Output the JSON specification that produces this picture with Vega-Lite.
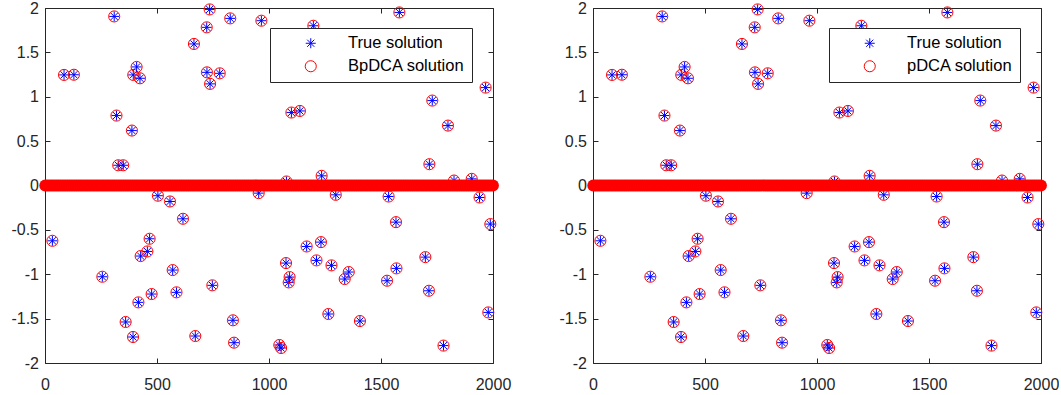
{
  "$schema": "https://vega.github.io/schema/vega-lite/v6.json",
  "padding": {"left": 10, "top": 0, "right": 0, "bottom": 0},
  "spacing": 47,
  "datasets": {
    "nz": [
      {"i":33,"True solution":-0.623,"BpDCA solution":-0.623,"pDCA solution":-0.623},
      {"i":85,"True solution":1.246,"BpDCA solution":1.246,"pDCA solution":1.246},
      {"i":129,"True solution":1.248,"BpDCA solution":1.248,"pDCA solution":1.248},
      {"i":256,"True solution":-1.028,"BpDCA solution":-1.028,"pDCA solution":-1.028},
      {"i":309,"True solution":1.905,"BpDCA solution":1.905,"pDCA solution":1.905},
      {"i":319,"True solution":0.788,"BpDCA solution":0.788,"pDCA solution":0.788},
      {"i":327,"True solution":0.228,"BpDCA solution":0.228,"pDCA solution":0.228},
      {"i":349,"True solution":0.228,"BpDCA solution":0.228,"pDCA solution":0.228},
      {"i":360,"True solution":-1.538,"BpDCA solution":-1.538,"pDCA solution":-1.538},
      {"i":388,"True solution":0.619,"BpDCA solution":0.619,"pDCA solution":0.619},
      {"i":393,"True solution":-1.707,"BpDCA solution":-1.707,"pDCA solution":-1.707},
      {"i":394,"True solution":1.246,"BpDCA solution":1.246,"pDCA solution":1.246},
      {"i":409,"True solution":1.336,"BpDCA solution":1.336,"pDCA solution":1.336},
      {"i":417,"True solution":-1.317,"BpDCA solution":-1.317,"pDCA solution":-1.317},
      {"i":424,"True solution":1.208,"BpDCA solution":1.208,"pDCA solution":1.208},
      {"i":427,"True solution":-0.795,"BpDCA solution":-0.795,"pDCA solution":-0.795},
      {"i":457,"True solution":-0.743,"BpDCA solution":-0.743,"pDCA solution":-0.743},
      {"i":467,"True solution":-0.6,"BpDCA solution":-0.6,"pDCA solution":-0.6},
      {"i":476,"True solution":-1.223,"BpDCA solution":-1.223,"pDCA solution":-1.223},
      {"i":504,"True solution":-0.115,"BpDCA solution":-0.115,"pDCA solution":-0.115},
      {"i":558,"True solution":-0.18,"BpDCA solution":-0.18,"pDCA solution":-0.18},
      {"i":570,"True solution":-0.953,"BpDCA solution":-0.953,"pDCA solution":-0.953},
      {"i":587,"True solution":-1.204,"BpDCA solution":-1.204,"pDCA solution":-1.204},
      {"i":616,"True solution":-0.375,"BpDCA solution":-0.375,"pDCA solution":-0.375},
      {"i":665,"True solution":1.595,"BpDCA solution":1.595,"pDCA solution":1.595},
      {"i":671,"True solution":-1.696,"BpDCA solution":-1.696,"pDCA solution":-1.696},
      {"i":722,"True solution":1.782,"BpDCA solution":1.782,"pDCA solution":1.782},
      {"i":723,"True solution":1.275,"BpDCA solution":1.275,"pDCA solution":1.275},
      {"i":735,"True solution":1.984,"BpDCA solution":1.984,"pDCA solution":1.984},
      {"i":737,"True solution":1.145,"BpDCA solution":1.145,"pDCA solution":1.145},
      {"i":747,"True solution":-1.125,"BpDCA solution":-1.125,"pDCA solution":-1.125},
      {"i":780,"True solution":1.264,"BpDCA solution":1.264,"pDCA solution":1.264},
      {"i":827,"True solution":1.883,"BpDCA solution":1.883,"pDCA solution":1.883},
      {"i":839,"True solution":-1.519,"BpDCA solution":-1.519,"pDCA solution":-1.519},
      {"i":844,"True solution":-1.771,"BpDCA solution":-1.771,"pDCA solution":-1.771},
      {"i":954,"True solution":-0.086,"BpDCA solution":-0.086,"pDCA solution":-0.086},
      {"i":966,"True solution":1.857,"BpDCA solution":1.857,"pDCA solution":1.857},
      {"i":1046,"True solution":-1.797,"BpDCA solution":-1.797,"pDCA solution":-1.797},
      {"i":1054,"True solution":-1.831,"BpDCA solution":-1.831,"pDCA solution":-1.831},
      {"i":1076,"True solution":-0.874,"BpDCA solution":-0.874,"pDCA solution":-0.874},
      {"i":1078,"True solution":0.045,"BpDCA solution":0.045,"pDCA solution":0.045},
      {"i":1088,"True solution":-1.092,"BpDCA solution":-1.092,"pDCA solution":-1.092},
      {"i":1092,"True solution":-1.032,"BpDCA solution":-1.032,"pDCA solution":-1.032},
      {"i":1100,"True solution":0.822,"BpDCA solution":0.822,"pDCA solution":0.822},
      {"i":1138,"True solution":0.84,"BpDCA solution":0.84,"pDCA solution":0.84},
      {"i":1168,"True solution":-0.687,"BpDCA solution":-0.687,"pDCA solution":-0.687},
      {"i":1198,"True solution":1.8,"BpDCA solution":1.8,"pDCA solution":1.8},
      {"i":1212,"True solution":-0.844,"BpDCA solution":-0.844,"pDCA solution":-0.844},
      {"i":1232,"True solution":-0.638,"BpDCA solution":-0.638,"pDCA solution":-0.638},
      {"i":1235,"True solution":0.109,"BpDCA solution":0.109,"pDCA solution":0.109},
      {"i":1265,"True solution":-1.448,"BpDCA solution":-1.448,"pDCA solution":-1.448},
      {"i":1279,"True solution":-0.9,"BpDCA solution":-0.9,"pDCA solution":-0.9},
      {"i":1298,"True solution":-0.105,"BpDCA solution":-0.105,"pDCA solution":-0.105},
      {"i":1338,"True solution":-1.054,"BpDCA solution":-1.054,"pDCA solution":-1.054},
      {"i":1356,"True solution":-0.975,"BpDCA solution":-0.975,"pDCA solution":-0.975},
      {"i":1406,"True solution":-1.527,"BpDCA solution":-1.527,"pDCA solution":-1.527},
      {"i":1527,"True solution":-1.073,"BpDCA solution":-1.073,"pDCA solution":-1.073},
      {"i":1534,"True solution":-0.124,"BpDCA solution":-0.124,"pDCA solution":-0.124},
      {"i":1567,"True solution":-0.413,"BpDCA solution":-0.413,"pDCA solution":-0.413},
      {"i":1569,"True solution":-0.934,"BpDCA solution":-0.934,"pDCA solution":-0.934},
      {"i":1582,"True solution":1.95,"BpDCA solution":1.95,"pDCA solution":1.95},
      {"i":1698,"True solution":-0.807,"BpDCA solution":-0.807,"pDCA solution":-0.807},
      {"i":1714,"True solution":-1.186,"BpDCA solution":-1.186,"pDCA solution":-1.186},
      {"i":1716,"True solution":0.24,"BpDCA solution":0.24,"pDCA solution":0.24},
      {"i":1729,"True solution":0.957,"BpDCA solution":0.957,"pDCA solution":0.957},
      {"i":1779,"True solution":-1.804,"BpDCA solution":-1.804,"pDCA solution":-1.804},
      {"i":1799,"True solution":0.675,"BpDCA solution":0.675,"pDCA solution":0.675},
      {"i":1826,"True solution":0.056,"BpDCA solution":0.056,"pDCA solution":0.056},
      {"i":1905,"True solution":0.075,"BpDCA solution":0.075,"pDCA solution":0.075},
      {"i":1940,"True solution":-0.135,"BpDCA solution":-0.135,"pDCA solution":-0.135},
      {"i":1967,"True solution":1.103,"BpDCA solution":1.103,"pDCA solution":1.103},
      {"i":1979,"True solution":-1.43,"BpDCA solution":-1.43,"pDCA solution":-1.43},
      {"i":1988,"True solution":-0.435,"BpDCA solution":-0.435,"pDCA solution":-0.435}
    ],
    "zeros": [
      {"i":1,"v":0},{"i":10,"v":0},{"i":20,"v":0},{"i":30,"v":0},{"i":40,"v":0},{"i":50,"v":0},{"i":60,"v":0},{"i":70,"v":0},{"i":80,"v":0},{"i":90,"v":0},
      {"i":100,"v":0},{"i":110,"v":0},{"i":120,"v":0},{"i":130,"v":0},{"i":140,"v":0},{"i":150,"v":0},{"i":160,"v":0},{"i":170,"v":0},{"i":180,"v":0},{"i":190,"v":0},
      {"i":200,"v":0},{"i":210,"v":0},{"i":220,"v":0},{"i":230,"v":0},{"i":240,"v":0},{"i":250,"v":0},{"i":260,"v":0},{"i":270,"v":0},{"i":280,"v":0},{"i":290,"v":0},
      {"i":300,"v":0},{"i":310,"v":0},{"i":320,"v":0},{"i":330,"v":0},{"i":340,"v":0},{"i":350,"v":0},{"i":360,"v":0},{"i":370,"v":0},{"i":380,"v":0},{"i":390,"v":0},
      {"i":400,"v":0},{"i":410,"v":0},{"i":420,"v":0},{"i":430,"v":0},{"i":440,"v":0},{"i":450,"v":0},{"i":460,"v":0},{"i":470,"v":0},{"i":480,"v":0},{"i":490,"v":0},
      {"i":500,"v":0},{"i":510,"v":0},{"i":520,"v":0},{"i":530,"v":0},{"i":540,"v":0},{"i":550,"v":0},{"i":560,"v":0},{"i":570,"v":0},{"i":580,"v":0},{"i":590,"v":0},
      {"i":600,"v":0},{"i":610,"v":0},{"i":620,"v":0},{"i":630,"v":0},{"i":640,"v":0},{"i":650,"v":0},{"i":660,"v":0},{"i":670,"v":0},{"i":680,"v":0},{"i":690,"v":0},
      {"i":700,"v":0},{"i":710,"v":0},{"i":720,"v":0},{"i":730,"v":0},{"i":740,"v":0},{"i":750,"v":0},{"i":760,"v":0},{"i":770,"v":0},{"i":780,"v":0},{"i":790,"v":0},
      {"i":800,"v":0},{"i":810,"v":0},{"i":820,"v":0},{"i":830,"v":0},{"i":840,"v":0},{"i":850,"v":0},{"i":860,"v":0},{"i":870,"v":0},{"i":880,"v":0},{"i":890,"v":0},
      {"i":900,"v":0},{"i":910,"v":0},{"i":920,"v":0},{"i":930,"v":0},{"i":940,"v":0},{"i":950,"v":0},{"i":960,"v":0},{"i":970,"v":0},{"i":980,"v":0},{"i":990,"v":0},
      {"i":1000,"v":0},{"i":1010,"v":0},{"i":1020,"v":0},{"i":1030,"v":0},{"i":1040,"v":0},{"i":1050,"v":0},{"i":1060,"v":0},{"i":1070,"v":0},{"i":1080,"v":0},{"i":1090,"v":0},
      {"i":1100,"v":0},{"i":1110,"v":0},{"i":1120,"v":0},{"i":1130,"v":0},{"i":1140,"v":0},{"i":1150,"v":0},{"i":1160,"v":0},{"i":1170,"v":0},{"i":1180,"v":0},{"i":1190,"v":0},
      {"i":1200,"v":0},{"i":1210,"v":0},{"i":1220,"v":0},{"i":1230,"v":0},{"i":1240,"v":0},{"i":1250,"v":0},{"i":1260,"v":0},{"i":1270,"v":0},{"i":1280,"v":0},{"i":1290,"v":0},
      {"i":1300,"v":0},{"i":1310,"v":0},{"i":1320,"v":0},{"i":1330,"v":0},{"i":1340,"v":0},{"i":1350,"v":0},{"i":1360,"v":0},{"i":1370,"v":0},{"i":1380,"v":0},{"i":1390,"v":0},
      {"i":1400,"v":0},{"i":1410,"v":0},{"i":1420,"v":0},{"i":1430,"v":0},{"i":1440,"v":0},{"i":1450,"v":0},{"i":1460,"v":0},{"i":1470,"v":0},{"i":1480,"v":0},{"i":1490,"v":0},
      {"i":1500,"v":0},{"i":1510,"v":0},{"i":1520,"v":0},{"i":1530,"v":0},{"i":1540,"v":0},{"i":1550,"v":0},{"i":1560,"v":0},{"i":1570,"v":0},{"i":1580,"v":0},{"i":1590,"v":0},
      {"i":1600,"v":0},{"i":1610,"v":0},{"i":1620,"v":0},{"i":1630,"v":0},{"i":1640,"v":0},{"i":1650,"v":0},{"i":1660,"v":0},{"i":1670,"v":0},{"i":1680,"v":0},{"i":1690,"v":0},
      {"i":1700,"v":0},{"i":1710,"v":0},{"i":1720,"v":0},{"i":1730,"v":0},{"i":1740,"v":0},{"i":1750,"v":0},{"i":1760,"v":0},{"i":1770,"v":0},{"i":1780,"v":0},{"i":1790,"v":0},
      {"i":1800,"v":0},{"i":1810,"v":0},{"i":1820,"v":0},{"i":1830,"v":0},{"i":1840,"v":0},{"i":1850,"v":0},{"i":1860,"v":0},{"i":1870,"v":0},{"i":1880,"v":0},{"i":1890,"v":0},
      {"i":1900,"v":0},{"i":1910,"v":0},{"i":1920,"v":0},{"i":1930,"v":0},{"i":1940,"v":0},{"i":1950,"v":0},{"i":1960,"v":0},{"i":1970,"v":0},{"i":1980,"v":0},{"i":1990,"v":0},
      {"i":2000,"v":0}
    ]
  },
  "hconcat": [
    {
      "width": 448,
      "height": 355,
      "layer": [
        {
          "data": {"name": "nz"},
          "transform": [{"fold": ["True solution", "BpDCA solution"], "as": ["series", "val"]}],
          "mark": {"type": "point", "filled": false, "strokeWidth": 1, "opacity": 1, "size": 123},
          "encoding": {
            "x": {"field": "i", "type": "quantitative", "scale": {"domain": [0, 2000], "nice": false, "zero": false},
                  "axis": {"orient": "bottom", "values": [0, 500, 1000, 1500, 2000], "format": "d", "tickSize": -5, "labelPadding": 18, "labelFlush": false, "labelOverlap": false}},
            "y": {"field": "val", "type": "quantitative", "scale": {"domain": [-2, 2], "nice": false, "zero": false},
                  "axis": {"orient": "left", "values": [-2, -1.5, -1, -0.5, 0, 0.5, 1, 1.5, 2], "labelExpr": "'' + datum.value", "tickSize": -5, "labelPadding": 11.5, "labelFlush": false, "labelOverlap": false}},
            "color": {"field": "series", "type": "nominal",
                      "scale": {"domain": ["True solution", "BpDCA solution"], "range": ["#0000ff", "#ff0000"]},
                      "legend": {"title": null, "orient": "none", "legendX": 225, "legendY": 20}},
            "shape": {"field": "series", "type": "nominal",
                      "scale": {"domain": ["True solution", "BpDCA solution"], "range": ["M-0.9,0L0.9,0M0,-0.9L0,0.9M-0.64,-0.64L0.64,0.64M-0.64,0.64L0.64,-0.64", "circle"]},
                      "legend": {"title": null, "orient": "none", "legendX": 225, "legendY": 20}}
          }
        },
        {
          "data": {"name": "zeros"},
          "mark": {"type": "point", "shape": "circle", "filled": true, "color": "#ff0000", "size": 140, "opacity": 1},
          "encoding": {
            "x": {"field": "i", "type": "quantitative", "scale": {"domain": [0, 2000], "nice": false, "zero": false},
                  "axis": {"orient": "top", "values": [0, 500, 1000, 1500, 2000], "labels": false, "tickSize": -5}},
            "y": {"field": "v", "type": "quantitative", "scale": {"domain": [-2, 2], "nice": false, "zero": false},
                  "axis": {"orient": "right", "values": [-2, -1.5, -1, -0.5, 0, 0.5, 1, 1.5, 2], "labels": false, "tickSize": -5}}
          }
        }
      ],
      "resolve": {"axis": {"x": "independent", "y": "independent"}}
    },
    {
      "width": 448,
      "height": 355,
      "layer": [
        {
          "data": {"name": "nz"},
          "transform": [{"fold": ["True solution", "pDCA solution"], "as": ["series", "val"]}],
          "mark": {"type": "point", "filled": false, "strokeWidth": 1, "opacity": 1, "size": 123},
          "encoding": {
            "x": {"field": "i", "type": "quantitative", "scale": {"domain": [0, 2000], "nice": false, "zero": false},
                  "axis": {"orient": "bottom", "values": [0, 500, 1000, 1500, 2000], "format": "d", "tickSize": -5, "labelPadding": 18, "labelFlush": false, "labelOverlap": false}},
            "y": {"field": "val", "type": "quantitative", "scale": {"domain": [-2, 2], "nice": false, "zero": false},
                  "axis": {"orient": "left", "values": [-2, -1.5, -1, -0.5, 0, 0.5, 1, 1.5, 2], "labelExpr": "'' + datum.value", "tickSize": -5, "labelPadding": 11.5, "labelFlush": false, "labelOverlap": false}},
            "color": {"field": "series", "type": "nominal",
                      "scale": {"domain": ["True solution", "pDCA solution"], "range": ["#0000ff", "#ff0000"]},
                      "legend": {"title": null, "orient": "none", "legendX": 236, "legendY": 20}},
            "shape": {"field": "series", "type": "nominal",
                      "scale": {"domain": ["True solution", "pDCA solution"], "range": ["M-0.9,0L0.9,0M0,-0.9L0,0.9M-0.64,-0.64L0.64,0.64M-0.64,0.64L0.64,-0.64", "circle"]},
                      "legend": {"title": null, "orient": "none", "legendX": 236, "legendY": 20}}
          }
        },
        {
          "data": {"name": "zeros"},
          "mark": {"type": "point", "shape": "circle", "filled": true, "color": "#ff0000", "size": 140, "opacity": 1},
          "encoding": {
            "x": {"field": "i", "type": "quantitative", "scale": {"domain": [0, 2000], "nice": false, "zero": false},
                  "axis": {"orient": "top", "values": [0, 500, 1000, 1500, 2000], "labels": false, "tickSize": -5}},
            "y": {"field": "v", "type": "quantitative", "scale": {"domain": [-2, 2], "nice": false, "zero": false},
                  "axis": {"orient": "right", "values": [-2, -1.5, -1, -0.5, 0, 0.5, 1, 1.5, 2], "labels": false, "tickSize": -5}}
          }
        }
      ],
      "resolve": {"axis": {"x": "independent", "y": "independent"}}
    }
  ],
  "resolve": {"scale": {"color": "independent", "shape": "independent"}, "legend": {"color": "independent", "shape": "independent"}},
  "config": {
    "view": {"stroke": null},
    "axis": {"grid": false, "title": null, "domainColor": "#262626", "tickColor": "#262626", "labelColor": "#262626", "labelFont": "Liberation Sans", "labelFontSize": 16, "domainWidth": 1, "tickWidth": 1},
    "legend": {"fillColor": "#ffffff", "strokeColor": "#262626", "padding": 7, "labelFont": "Liberation Sans", "labelFontSize": 16.5, "labelColor": "#000000", "symbolSize": 123, "symbolStrokeWidth": 1, "symbolOffset": 25.5, "labelOffset": 29, "rowPadding": 6, "labelLimit": 300}
  }
}
